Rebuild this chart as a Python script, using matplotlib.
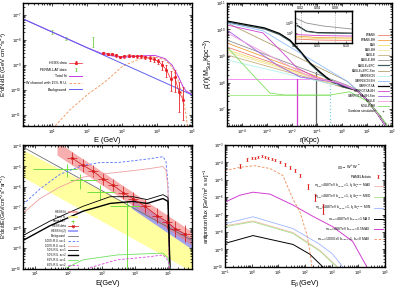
import numpy as np
import matplotlib
matplotlib.use('Agg')
import matplotlib.pyplot as plt

plt.rcParams['font.family'] = ['Liberation Sans', 'DejaVu Sans']
plt.rcParams['mathtext.default'] = 'regular'
plt.rcParams['axes.linewidth'] = 1.0

# ================= Panel 1 : HESS GC spectrum (log10 values) =================
bg_logE = [0.171, 5.0]
bg_logF = [-7.16, -10.2]
tot_logE = [0.171, 1.0, 2.0, 2.5, 3.0, 3.5, 3.94, 4.23, 4.43, 4.6, 4.74, 4.83, 5.0]
tot_logF = [-7.16, -7.68, -8.31, -8.59, -8.70, -8.64, -8.62, -8.75, -9.01, -9.44, -9.86, -10.04, -10.18]
w_logE = [1.09, 1.51, 2.0, 2.51, 3.03, 3.51, 3.94, 4.23, 4.43, 4.6, 4.74, 4.83, 4.88]
w_logF = [-11.44, -10.8, -10.2, -9.68, -9.04, -8.76, -8.68, -8.8, -9.08, -9.6, -10.32, -11.0, -11.6]
hess_logE = [2.47, 2.59, 2.71, 2.83, 2.95, 3.07, 3.19, 3.31, 3.43, 3.55, 3.67, 3.79, 3.91, 4.03,
             4.15, 4.27, 4.39, 4.51, 4.63, 4.75]
hess_logF = [-8.51, -8.55, -8.58, -8.62, -8.67, -8.66, -8.63, -8.64, -8.66, -8.66, -8.70, -8.74,
             -8.78, -8.85, -9.0, -9.2, -9.55, -9.5, -10.1, -10.4]
hess_elo = [0.04, 0.04, 0.04, 0.05, 0.05, 0.05, 0.05, 0.06, 0.06, 0.07, 0.08, 0.09, 0.1, 0.12,
            0.2, 0.3, 0.5, 0.6, 0.8, 0.8]
hess_ehi = [0.04, 0.04, 0.04, 0.04, 0.04, 0.05, 0.05, 0.05, 0.05, 0.06, 0.07, 0.08, 0.08, 0.1,
            0.15, 0.2, 0.3, 0.3, 0.4, 0.5]
fermi_logE = [1.0, 1.4, 2.17]
fermi_logF = [-7.68, -7.93, -8.08]
fermi_err = [0.08, 0.06, 0.2]

# ================= Panel 2 : density profiles (log10 r, log10 rho) =================
prof_names = ['EVANS', 'EVANS-BH', 'EAS', 'EAS-BH', 'EAGLE', 'EAGLE-BH', 'EAGLE+BFC',
              'EAGLE+BFC-Sim', 'GARRISON', 'GARRISON-BH', 'GARROTXA', 'GARROTXA-BH',
              'GARROTXA-BH-Sim', 'MOLLE', 'MOLLE-BH']
prof_colors = ['#f08070', '#f0a040', '#f0e070', '#f5e6a0', '#c8b080', '#909090', '#406060',
               '#b0a070', '#b0f0f0', '#90c0ff', '#000000', '#d040d0', '#a060e0', '#f0a0e0',
               '#80e060']
prof_logr = [
    [-4.6, -0.08, 0.6, 1.0, 1.4, 1.75],
    [-4.6, -0.08, 0.6, 1.0, 1.4, 1.78],
    [-4.6, 0.0, 0.6, 1.0, 1.4, 1.8],
    [-4.6, 0.0, 0.6, 1.0, 1.4, 1.8],
    [-4.6, -0.48, 0.0, 0.6, 1.0, 1.4, 1.75],
    [-4.6, 0.2, 0.6, 1.0, 1.4, 1.72],
    [-4.6, -3.1, -2.5, -2.08, -1.68, -1.28, -0.88, -0.48, 0.04, 0.6, 1.0, 1.4, 1.75],
    [-4.6, 0.2, 0.6, 1.0, 1.4, 1.8],
    [-4.6, -0.48, 0.0, 0.6, 1.0, 1.4, 1.8],
    [-4.6, -3.16, 0.2, 0.6, 1.0, 1.4, 1.75],
    [-4.6, -3.1, -2.5, -2.08, -1.68, -1.28, -0.88, -0.48, 0.04, 0.6, 1.0, 1.4, 1.75],
    [-4.6, -3.16, -2.36, -1.8, -1.0, -0.08, 0.6, 1.0, 1.4, 1.75],
    [-4.6, -2.6, -1.68, -0.36, 0.6, 1.0, 1.4, 1.75],
    [-4.6, -1.28, -0.08, 0.6, 1.0, 1.4, 1.75],
    [-4.6, -3.56, -2.88, -2.3, -0.48, 0.3, 1.0, 1.5, 1.8],
]
prof_logrho = [
    [9.34, 7.85, 7.7, 7.34, 6.85, 6.36],
    [9.49, 7.9, 7.7, 7.34, 6.86, 6.36],
    [9.23, 7.85, 7.68, 7.32, 6.84, 6.36],
    [9.15, 7.85, 7.68, 7.32, 6.84, 6.36],
    [9.04, 7.95, 7.85, 7.7, 7.34, 6.85, 6.36],
    [9.6, 7.9, 7.72, 7.36, 6.87, 6.36],
    [10.28, 10.02, 9.81, 9.56, 9.16, 8.70, 8.36, 8.05, 7.83, 7.7, 7.34, 6.85, 6.36],
    [10.25, 8.05, 7.72, 7.36, 6.86, 6.36],
    [8.85, 7.95, 7.9, 7.7, 7.34, 6.85, 6.36],
    [10.25, 9.95, 8.05, 7.72, 7.35, 6.86, 6.36],
    [10.32, 10.06, 9.85, 9.6, 9.2, 8.74, 8.40, 8.09, 7.87, 7.7, 7.34, 6.85, 6.36],
    [10.17, 9.87, 9.11, 8.55, 8.17, 7.98, 7.7, 7.34, 6.85, 6.36],
    [9.98, 8.66, 8.21, 8.02, 7.7, 7.34, 6.85, 6.36],
    [9.87, 8.21, 7.98, 7.7, 7.34, 6.85, 6.36],
    [9.34, 8.28, 7.6, 7.53, 7.53, 7.65, 7.3, 6.8, 6.4],
]
hline_logr = [-4.6, -1.0]
hline_mag_logrho = 8.13
hline_grn_logrho = 7.53
vlines_logr = [-1.8, -1.04, -0.48]
vlines_top = [8.13, 8.4, 7.9]
gamb_logr = [1.3, 1.5, 1.7]
gamb_logrho = [6.97, 6.74, 6.47]
# inset
ins_r = [[0.0125, 0.03, 0.06, 0.11], [0.0135, 0.03, 0.05, 0.11], [0.0135, 0.03, 0.05, 0.11],
         [0.012, 0.05, 0.11], [0.012, 0.05, 0.11], [0.012, 0.05, 0.11], [0.012, 0.05, 0.11]]
ins_logrho = [[10.45, 10.0, 9.7, 9.4], [9.8, 9.2, 9.05, 9.0], [9.7, 9.15, 9.0, 8.95],
              [8.85, 8.75, 8.7], [8.7, 8.55, 8.5], [8.55, 8.45, 8.4], [8.4, 8.3, 8.25]]
ins_colors = ['#909090', '#000000', '#406060', '#d040d0', '#f0a040', '#f0e070', '#f08070']

# ================= Panel 3 : gamma-ray spectra (log10 values) =================
yel_logE = [0.64, 5.71]
yel_lo = [-5.52, -10.14]
yel_hi = [-4.19, -8.48]
redb_logE = [1.66, 5.71]
redb_lo = [-4.44, -8.85]
redb_hi = [-3.78, -8.19]
blub_logE = [3.9, 5.71]
blub_lo = [-7.05, -9.05]
blub_hi = [-6.55, -8.52]
grey_logE = [0.64, 5.71]
grey_logF = [-4.05, -8.62]
h3_logE = [2.11, 2.44, 2.74, 3.04, 3.34, 3.64, 3.94, 4.30, 4.66, 4.96, 5.20, 5.50]
h3_logF = [-4.58, -4.95, -5.22, -5.62, -5.92, -6.28, -6.58, -6.95, -7.40, -7.70, -8.05, -8.30]
h3_yerr = [0.3, 0.3, 0.3, 0.3, 0.3, 0.3, 0.32, 0.34, 0.36, 0.38, 0.4, 0.42]
h3_xerr = 0.15
f3_logE = [1.96, 2.35, 2.95, 3.76]
f3_Elo = [0.94, 2.05, 2.56, 3.25]
f3_Ehi = [2.26, 2.86, 3.40, 4.15]
f3_logF = [-5.14, -5.67, -6.24, -6.95]
f3_Flo = [-5.52, -6.10, -6.62, -10.0]
f3_Fhi = [-4.90, -5.38, -5.90, -6.71]
bd_logE = [0.64, 1.15, 1.75, 2.44, 2.95, 3.46, 4.00, 4.45, 4.84, 4.93, 4.99, 5.02]
bd_logF = [-6.86, -6.10, -5.38, -4.95, -4.81, -4.81, -4.71, -4.62, -4.52, -4.76, -5.86, -10.0]
pk_logE = [0.64, 1.15, 1.75, 2.44, 2.95, 3.46, 4.00, 4.45, 4.84, 4.93, 4.99, 5.02]
pk_logF = [-7.29, -6.57, -6.0, -5.52, -5.38, -5.29, -5.19, -5.10, -5.0, -5.19, -6.1, -10.0]
bk1_logE = [0.64, 1.45, 2.44, 3.25, 3.94, 4.36, 4.84, 4.99, 5.05]
bk1_logF = [-8.38, -7.67, -6.95, -6.48, -6.48, -6.62, -6.38, -6.52, -10.0]
bk2_logE = [0.64, 1.45, 2.44, 3.25, 3.94, 4.36, 4.84, 4.99, 5.05]
bk2_logF = [-8.62, -7.90, -7.19, -6.81, -6.71, -6.81, -6.57, -6.71, -10.0]
gb_logE = [1.96, 2.44, 3.46, 4.84, 4.99, 5.05]
gb_logF = [-9.95, -9.57, -9.33, -9.24, -9.48, -10.0]
mb_logE = [2.65, 3.46, 4.36, 4.84, 4.99, 5.05]
mb_logF = [-9.95, -9.57, -9.43, -9.33, -9.6, -10.0]

# ================= Panel 4 : antiproton flux (log10 values) =================
pam_logE = [-0.44, -0.18, 0.01, 0.12, 0.24, 0.39, 0.50, 0.61, 0.76, 0.87, 1.06, 1.25, 1.43,
            1.62, 1.81, 2.11, 2.37, 2.67]
pam_logF = [-4.19, -3.85, -3.73, -3.73, -3.68, -3.62, -3.68, -3.73, -3.79, -3.85, -3.96, -4.13,
            -4.30, -4.47, -4.75, -5.37, -5.99, -6.67]
pam_err = [0.12, 0.08, 0.06, 0.06, 0.06, 0.06, 0.06, 0.06, 0.06, 0.07, 0.07, 0.08, 0.08, 0.1,
           0.1, 0.15, 0.2, 0.3]
or_logE = [-1.0, -0.44, 0.12, 0.69, 1.17, 1.55, 1.81, 2.07, 2.18, 2.26]
or_logF = [-4.47, -4.28, -4.19, -4.35, -4.75, -6.11, -6.84, -8.14, -9.1, -10.0]
mg_logE = [-1.0, -0.44, 0.05, 0.69, 1.55, 2.30, 3.04, 3.79, 4.32]
mg_logF = [-6.28, -5.88, -5.71, -5.82, -6.45, -7.10, -7.69, -8.54, -10.0]
bl_logE = [-1.0, 0.05, 1.55, 2.56, 3.04, 3.42]
bl_logF = [-7.52, -7.12, -7.80, -8.71, -9.27, -10.0]
gr_logE = [-1.0, 0.05, 1.55, 2.56, 3.19]
gr_logF = [-7.69, -7.41, -8.08, -9.10, -10.0]
pk4_logE = [-1.0, 0.05, 1.55, 2.56, 3.22]
pk4_logF = [-7.64, -7.36, -8.03, -9.05, -10.0]
bk4_logE = [-1.0, 0.05, 1.55, 2.18, 2.67]
bk4_logF = [-8.65, -8.20, -8.71, -9.27, -10.0]


def P(a):
    return 10.0 ** np.asarray(a, dtype=float)


def style(ax, ls=3.0):
    ax.set_xscale('log')
    ax.set_yscale('log')
    ax.tick_params(which='both', direction='in', top=True, right=True, labelsize=ls,
                   pad=1.0, width=0.5)
    ax.tick_params(which='major', length=2.5)
    ax.tick_params(which='minor', length=1.2)


def ordered_legend(ax, order, **kw):
    h, l = ax.get_legend_handles_labels()
    d = dict(zip(l, h))
    return ax.legend([d[k] for k in order], order, frameon=False, markerfirst=False, **kw)


fig = plt.figure(figsize=(4.0, 2.87), dpi=100)
XL = 5.3

# ---------------- Panel 1 ----------------
ax1 = fig.add_axes([0.0575, 0.561, 0.4225, 0.4286])
style(ax1)
ax1.set_xlim(1.48, 1e5)
ax1.set_ylim(3.6e-12, 3.0e-7)
hv = P(hess_logF)
ax1.errorbar(P(hess_logE), hv, yerr=[hv - P(np.array(hess_logF) - np.array(hess_elo)),
                                     P(np.array(hess_logF) + np.array(hess_ehi)) - hv],
             fmt='-o', color='#e8202a', ms=1.2, lw=0.5, elinewidth=0.6, capsize=0.8,
             capthick=0.5, label='HESS data', zorder=5)
fv = P(fermi_logF)
ax1.errorbar(P(fermi_logE), fv, yerr=[fv - P(np.array(fermi_logF) - np.array(fermi_err)),
                                      P(np.array(fermi_logF) + np.array(fermi_err)) - fv],
             fmt='none', ecolor='#70d040', elinewidth=0.6, capsize=0.8, capthick=0.5,
             label='FERMI-LAT data')
ax1.plot(P(tot_logE), P(tot_logF), color='#c040e0', lw=0.7, label='Total fit')
ax1.plot(P(w_logE), P(w_logF), color='#f09050', lw=0.6, ls=(0, (3, 2)),
         label='W channel with 15% R.U.')
ax1.plot(P(bg_logE), P(bg_logF), color='#6060f0', lw=0.7, label='Background')
ax1.set_xlabel('E (GeV)', fontsize=XL, labelpad=0.2)
ax1.set_ylabel(r'E$^2$dN/dE (GeV cm$^{-2}$s$^{-1}$)', fontsize=4.3, labelpad=0.6)
ordered_legend(ax1, ['HESS data', 'FERMI-LAT data', 'Total fit', 'W channel with 15% R.U.',
                     'Background'],
               loc='upper left', bbox_to_anchor=(0.0, 0.55), fontsize=2.6,
               handlelength=3.5, labelspacing=0.75, borderpad=0.2)

# ---------------- Panel 2 ----------------
ax2 = fig.add_axes([0.5675, 0.561, 0.4125, 0.4286])
style(ax2)
ax2.set_xlim(P(-4.6), P(2.0))
ax2.set_ylim(P(6.36), P(11.0))
ax2.plot(P(hline_logr), P([hline_mag_logrho] * 2), color='#f080f0', lw=0.6)
ax2.plot(P(hline_logr + [-0.48]), P([hline_grn_logrho] * 3), color='#a0e880', lw=0.6)
vcols = ['#d040d0', '#606060', '#80d0e0']
vls = ['-', '-', ':']
for x, top, c, l in zip(vlines_logr, vlines_top, vcols, vls):
    ax2.plot(P([x, x]), P([6.36, top]), color=c, lw=0.9, ls=l)
for nm, c, r, rho in zip(prof_names, prof_colors, prof_logr, prof_logrho):
    lw = 0.9 if c in ('#000000', '#406060') else 0.6
    ax2.plot(P(r), P(rho), color=c, lw=lw, label=nm)
ax2.plot(P(gamb_logr), P(gamb_logrho), ls='none', marker='+', ms=1.5, mew=0.4,
         color='#707070', label='Gambina simulation')
ax2.set_xlabel('r(Kpc)', fontsize=XL, labelpad=0.2)
ax2.set_ylabel(r'$\rho$(r)(M$_{Sun}$Kpc$^{-3}$)', fontsize=5.0, labelpad=0.3)
ax2.legend(loc='upper right', bbox_to_anchor=(0.99, 0.77), fontsize=2.2, frameon=False,
           markerfirst=False, handlelength=3.5, labelspacing=0.35, borderpad=0.1)

axi = fig.add_axes([0.7375, 0.850, 0.1425, 0.1115])
axi.set_yscale('log')
axi.set_xlim(0.01, 0.11)
axi.set_ylim(P(8.0), P(11.2))
for r, rho, c in zip(ins_r, ins_logrho, ins_colors):
    axi.plot(r, P(rho), color=c, lw=0.6)
axi.axvline(0.02, color='#909090', ls=':', lw=0.5)
axi.axvline(0.08, color='#909090', ls=':', lw=0.5)
axi.set_xticks([0.01, 0.05, 0.10])
axi.set_xticklabels(['0.01', '0.05', '0.10'])
axi.set_yticks([P(9), P(10)])
axi.tick_params(which='both', direction='in', top=True, right=True, labelsize=2.6,
                pad=1, width=0.4, length=1.5)
axi.tick_params(which='minor', length=0)
for s in axi.spines.values():
    s.set_linewidth(1.0)
sec = axi.secondary_xaxis('top')
sec.set_xticks([0.02, 0.05, 0.08])
sec.set_xticklabels(['0.02', '0.04', '0.08'])
sec.tick_params(labelsize=2.6, pad=0.5, direction='in', length=1.5, width=0.4)

# ---------------- Panel 3 ----------------
ax3 = fig.add_axes([0.0575, 0.064, 0.4225, 0.4307])
style(ax3)
ax3.set_xlim(P(0.64), P(5.71))
ax3.set_ylim(1e-10, P(-3.95))
ax3.fill_between(P(yel_logE), P(yel_lo), P(yel_hi), color='#ffff90', alpha=0.85, lw=0,
                 label='Fermi fit')
ax3.fill_between(P(blub_logE), P(blub_lo), P(blub_hi), color='#8c8cff', alpha=0.8, lw=0,
                 label='HESS fit (2)')
ax3.fill_between(P(redb_logE), P(redb_lo), P(redb_hi), color='#f07878', alpha=0.6, lw=0,
                 label='HESS fit')
ax3.plot(P(grey_logE), P(grey_logF), color='#707070', lw=0.6, label='Background')
fE = P(f3_logE)
fF = P(f3_logF)
ax3.errorbar(fE, fF, xerr=[fE - P(f3_Elo), P(f3_Ehi) - fE], yerr=[fF - P(f3_Flo), P(f3_Fhi) - fF],
             fmt='none', ecolor='#70e040', elinewidth=0.7, label='Fermi-LAT')
hE = P(h3_logE)
hF = P(h3_logF)
ye = np.array(h3_yerr)
ax3.errorbar(hE, hF, xerr=[hE - P(np.array(h3_logE) - h3_xerr), P(np.array(h3_logE) + h3_xerr) - hE],
             yerr=[hF - P(np.array(h3_logF) - ye), P(np.array(h3_logF) + ye) - hF],
             fmt='-x', color='#d01010', ms=1.8, mew=0.5, lw=0.5, elinewidth=0.5, label='HESS data')
l3 = ['100% R.U. sv=1', '100% R.U. sv=2', '50% R.U. sv=1', '50% R.U. sv=2',
      '60% R.U. sv=1', '60% R.U. sv=2']
ax3.plot(P(bd_logE), P(bd_logF), color='#5070ff', lw=0.6, ls=(0, (3, 2)), label=l3[0])
ax3.plot(P(pk_logE), P(pk_logF), color='#f0a0a0', lw=0.6, label=l3[1])
ax3.plot(P(bk1_logE), P(bk1_logF), color='#000000', lw=0.6, label=l3[2])
ax3.plot(P(bk2_logE), P(bk2_logF), color='#000000', lw=1.0, label=l3[3])
ax3.plot(P(gb_logE), P(gb_logF), color='#70e060', lw=0.6, label=l3[4])
ax3.plot(P(mb_logE), P(mb_logF), color='#e040e0', lw=0.6, ls=(0, (3, 2)), label=l3[5])
ax3.set_xlabel('E(GeV)', fontsize=XL, labelpad=0.2)
ax3.set_ylabel(r'E$^2$d$\epsilon$/dE(GeV/cm$^{-2}$s$^{-1}$sr$^{-1}$)', fontsize=3.9,
               labelpad=0.8)
ordered_legend(ax3, ['HESS fit', 'Fermi fit', 'Fermi-LAT', 'HESS data', 'HESS fit (2)',
                     'Background'] + l3,
               loc='upper left', bbox_to_anchor=(0.12, 0.49), fontsize=2.0,
               handlelength=3.8, labelspacing=0.3, borderpad=0.1)

# ---------------- Panel 4 ----------------
ax4 = fig.add_axes([0.5625, 0.07, 0.4, 0.4247])
style(ax4)
ax4.set_xlim(0.1, 1e5)
ax4.set_ylim(1e-10, 1e-3)
pv = P(pam_logF)
ax4.errorbar(P(pam_logE), pv, yerr=[pv - P(np.array(pam_logF) - np.array(pam_err)),
                                    P(np.array(pam_logF) + np.array(pam_err)) - pv],
             fmt='none', ecolor='#e02020', elinewidth=0.8, capsize=0.6, capthick=0.4,
             label='PAMELA data')
lab = r'm$_{DM}$=48.8TeV b$_{HESS}$=1, b$_F$/b$_F^{HESS}$'
l4 = [lab + ' MAX', lab + ' MED', lab + ' MIN', r'm$_{DM}$=48.8TeV b$_{HESS}$=1 MAX',
      r'm$_{DM}$=48.8TeV b$_{HESS}$=0.5 MAX', r'm$_{DM}$=1000GeV b$_{HESS}$=1, b$_F$=0 MAX']
ax4.plot(P(pk4_logE), P(pk4_logF), color='#f4b8b0', lw=0.6, label=l4[0])
ax4.plot(P(gr_logE), P(gr_logF), color='#a8e088', lw=0.6, label=l4[1])
ax4.plot(P(bl_logE), P(bl_logF), color='#a0b4ff', lw=0.6, label=l4[2])
ax4.plot(P(bk4_logE), P(bk4_logF), color='#000000', lw=0.7, label=l4[3])
ax4.plot(P(mg_logE), P(mg_logF), color='#d040d0', lw=0.7, label=l4[4])
ax4.plot(P(or_logE), P(or_logF), color='#f08850', lw=0.6, ls=(0, (3, 2)), label=l4[5])
ax4.set_xlabel(r'E$_{\bar{p}}$(GeV)', fontsize=XL, labelpad=0.2)
ax4.set_ylabel(r'antiproton flux [GeV/m$^2$ s sr]$^{-1}$', fontsize=4.0, labelpad=0.3)
ordered_legend(ax4, ['PAMELA data'] + l4,
               loc='upper right', bbox_to_anchor=(1.0, 0.86), fontsize=2.3,
               handlelength=3.0, labelspacing=0.8, borderpad=0.1,
               title=r'$\chi\chi \rightarrow W^+W^-$', title_fontsize=2.8)

fig.savefig('out.png', dpi=100)
